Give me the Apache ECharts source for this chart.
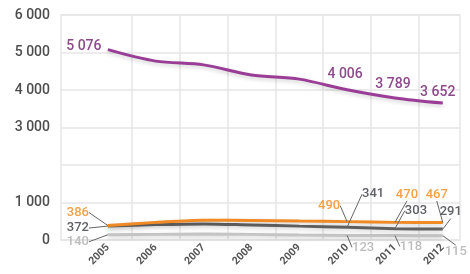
<!DOCTYPE html>
<html>
<head>
<meta charset="utf-8">
<script src="https://cdn.jsdelivr.net/npm/echarts@6/dist/echarts.min.js"></script>
<style>
  html, body { margin: 0; padding: 0; background: #fff; }
  #chart { width: 470px; height: 274px; }
</style>
</head>
<body>
<div id="chart"></div>
<script>
// data
const years = [2005, 2006, 2007, 2008, 2009, 2010, 2011, 2012];
const purpleValues = [5076, 4770, 4670, 4400, 4290, 4006, 3789, 3652];
const orangeValues = [386, 470, 530, 520, 505, 490, 470, 467];
const darkValues = [372, 410, 430, 400, 370, 341, 303, 291];
const lightValues = [140, 150, 160, 150, 135, 123, 118, 115];
const labeledIndex = [0, 5, 6, 7]; // only these points carry a value label
const yTicks = [0, 1000, 3000, 4000, 5000, 6000]; // "2 000" is not printed in the original

// label offsets (px) from the point, per series, per labelled point
const labelOffsets = {
  purple: { 0: [-24, -3], 5: [-2, -15], 6: [-2, -13], 7: [-5, -11] },
  orange: { 0: [-30, -13], 5: [-18, -16], 6: [12, -28], 7: [-6, -28] },
  dark: { 0: [-30, 2], 5: [26, -33], 6: [21, -18], 7: [8, -17] },
  light: { 0: [-30, 7], 5: [16, 12], 6: [16, 11], 7: [13, 16] }
};

const fontFamily = "Roboto, 'DejaVu Sans', sans-serif";
const fmt = (v) => String(v).replace(/\B(?=(\d{3})+(?!\d))/g, " ");

function makeSeries(key, values, lineColor, labelColor, fontSize, withGuide) {
  return {
    name: key,
    type: "line",
    smooth: 0.3,
    symbol: "circle",
    symbolSize: 0.1,
    showSymbol: true,
    lineStyle: {
      color: lineColor,
      width: 3,
      shadowColor: "rgba(0,0,0,0.18)",
      shadowBlur: 4,
      shadowOffsetY: 2
    },
    itemStyle: { color: lineColor },
    label: {
      position: "inside",
      color: labelColor,
      fontSize: fontSize,
      fontWeight: 500,
      fontFamily: fontFamily,
      formatter: (p) => fmt(p.value[1])
    },
    labelLine: {
      show: withGuide,
      lineStyle: { color: "#666", width: 1 }
    },
    labelLayout: (params) => {
      const off = labelOffsets[key][params.dataIndex];
      return off ? { dx: off[0], dy: off[1] } : {};
    },
    data: years.map((y, i) => ({
      value: [y, values[i]],
      label: { show: labeledIndex.includes(i) }
    }))
  };
}

const chart = echarts.init(document.getElementById("chart"));

chart.setOption({
  animation: false,
  backgroundColor: "#fff",
  grid: {
    left: 61,
    right: 10,
    top: 15,
    bottom: 34,
    show: true,
    borderColor: "#e6e6e6",
    borderWidth: 1.5
  },
  xAxis: {
    type: "value",
    min: 2004.02,
    max: 2012.36,
    axisLine: { show: false },
    axisTick: {
      show: false,
      customValues: years.slice(0, -1).map((y) => y + 0.5)
    },
    splitLine: { show: true, lineStyle: { color: "#e6e6e6", width: 1.5 } },
    axisLabel: {
      customValues: years,
      rotate: 45,
      margin: 6,
      color: "#555",
      fontSize: 10.5,
      fontWeight: "bold",
      fontFamily: fontFamily,
      formatter: (v) => String(v)
    }
  },
  yAxis: {
    type: "value",
    min: 0,
    max: 6000,
    interval: 1000,
    axisLine: { show: false },
    axisTick: { show: false },
    splitLine: { lineStyle: { color: "#e6e6e6", width: 1.5 } },
    axisLabel: {
      margin: 11,
      color: "#4d4d4d",
      fontSize: 14,
      fontWeight: 500,
      fontFamily: fontFamily,
      formatter: (v) => (yTicks.includes(v) ? fmt(v) : "")
    }
  },
  series: [
    makeSeries("light", lightValues, "#c4c4c4", "#bdbdbd", 13, true),
    makeSeries("dark", darkValues, "#626262", "#5f6166", 13, true),
    makeSeries("orange", orangeValues, "#f08a24", "#f2a24a", 13, true),
    makeSeries("purple", purpleValues, "#9a3d96", "#8c4a8a", 14, false)
  ]
});

window.addEventListener("resize", () => chart.resize());
</script>
</body>
</html>
